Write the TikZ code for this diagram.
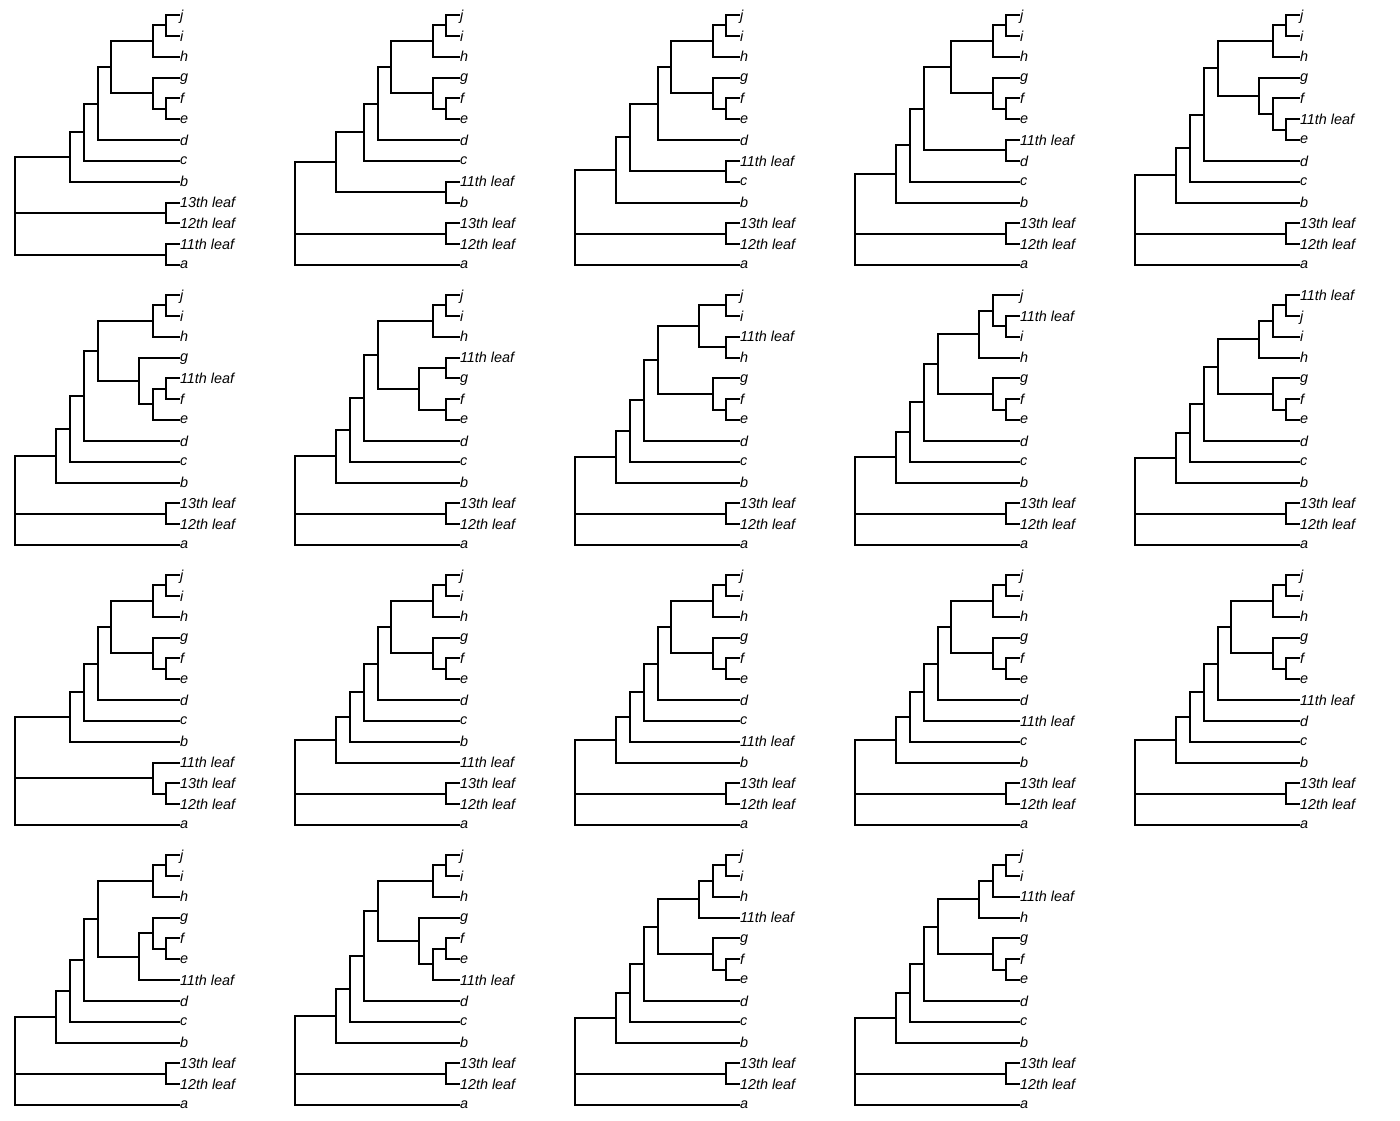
\documentclass[tikz,border=0pt]{standalone}
\usepackage{fontspec}
\setmainfont{Liberation Sans}
\usetikzlibrary{calc}
\def\labj{j}\def\labi{i}\def\labh{h}\def\labg{g}\def\labf{f}\def\labe{e}
\def\labd{d}\def\labc{c}\def\labb{b}\def\laba{a}
\def\labk{11th leaf}\def\labl{12th leaf}\def\labm{13th leaf}
\tikzset{
  br/.style={line width=1pt, black},
  tiplab/.style={anchor=west, inner sep=0pt, outer sep=0pt, text depth=0pt,
    font=\fontsize{7.2pt}{8pt}\selectfont\itshape},
  panel/.style={x=6.875pt, y=-10.416667pt}
}
\newcommand\tips[1]{%
  \foreach \n [count=\r from 0] in {#1} {%
    \coordinate (\tid\n) at (12,\r);
    \node[tiplab] (\tid\n L) at (\tid\n) {\csname lab\n\endcsname};
  }}
\newcommand\nd[4]{%
  \path ($(\tid#3)!0.5!(\tid#4)$) coordinate (\tid#1Y);
  \path (#2,0) coordinate (\tid#1X);
  \coordinate (\tid#1) at (\tid#1X |- \tid#1Y);
  \draw[br] (\tid#1) |- (\tid#3);
  \draw[br] (\tid#1) |- (\tid#4);}
\newcommand\ed[2]{\draw[br] (\tid#1) |- (\tid#2);}
\newcommand\jihbase{\nd{ji}{11}{j}{i}\nd{jih}{10}{ji}{h}}
\newcommand\gfebase{\nd{fe}{11}{f}{e}\nd{gfe}{10}{g}{fe}}
\newcommand\fin{\nd{ml}{11}{m}{l}\nd{root}{0}{bb}{a}\ed{root}{ml}}
\newcommand\tailA{\nd{dd}{5}{jg}{d}\nd{cc}{4}{dd}{c}\nd{bb}{3}{cc}{b}\fin}
\begin{document}
\begin{tikzpicture}[x=0.5pt, y=0.5pt]
\path[use as bounding box] (0,0) rectangle (1400,-1120);
% ---------- row 1 ----------
\begin{scope}[shift={(7.5pt,-7.5pt)}, panel]
\def\tid{t1}
\tips{j,i,h,g,f,e,d,c,b,m,l,k,a}
\jihbase\gfebase
\nd{jg}{7}{jih}{gfe}\nd{dd}{6}{jg}{d}\nd{cc}{5}{dd}{c}\nd{bb}{4}{cc}{b}
\nd{ml}{11}{m}{l}\nd{ka}{11}{k}{a}
\nd{root}{0}{bb}{ka}\ed{root}{ml}
\end{scope}
\begin{scope}[shift={(147.5pt,-7.5pt)}, panel]
\def\tid{t2}
\tips{j,i,h,g,f,e,d,c,k,b,m,l,a}
\jihbase\gfebase
\nd{jg}{7}{jih}{gfe}\nd{dd}{6}{jg}{d}\nd{cc}{5}{dd}{c}
\nd{kb}{11}{k}{b}\nd{bb}{3}{cc}{kb}
\fin
\end{scope}
\begin{scope}[shift={(287.5pt,-7.5pt)}, panel]
\def\tid{t3}
\tips{j,i,h,g,f,e,d,k,c,b,m,l,a}
\jihbase\gfebase
\nd{jg}{7}{jih}{gfe}\nd{dd}{6}{jg}{d}\nd{kc}{11}{k}{c}
\nd{cc}{4}{dd}{kc}\nd{bb}{3}{cc}{b}
\fin
\end{scope}
\begin{scope}[shift={(427.5pt,-7.5pt)}, panel]
\def\tid{t4}
\tips{j,i,h,g,f,e,k,d,c,b,m,l,a}
\jihbase\gfebase
\nd{jg}{7}{jih}{gfe}\nd{kd}{11}{k}{d}\nd{dd}{5}{jg}{kd}
\nd{cc}{4}{dd}{c}\nd{bb}{3}{cc}{b}
\fin
\end{scope}
\begin{scope}[shift={(567.5pt,-7.5pt)}, panel]
\def\tid{t5}
\tips{j,i,h,g,f,k,e,d,c,b,m,l,a}
\jihbase
\nd{ke}{11}{k}{e}\nd{fke}{10}{f}{ke}\nd{gfe}{9}{g}{fke}
\nd{jg}{6}{jih}{gfe}
\tailA
\end{scope}
% ---------- row 2 ----------
\begin{scope}[shift={(7.5pt,-147.5pt)}, panel]
\def\tid{t6}
\tips{j,i,h,g,k,f,e,d,c,b,m,l,a}
\jihbase
\nd{kf}{11}{k}{f}\nd{kfe}{10}{kf}{e}\nd{gfe}{9}{g}{kfe}
\nd{jg}{6}{jih}{gfe}
\tailA
\end{scope}
\begin{scope}[shift={(147.5pt,-147.5pt)}, panel]
\def\tid{t7}
\tips{j,i,h,k,g,f,e,d,c,b,m,l,a}
\jihbase
\nd{kg}{11}{k}{g}\nd{fe}{11}{f}{e}\nd{gfe}{9}{kg}{fe}
\nd{jg}{6}{jih}{gfe}
\tailA
\end{scope}
\begin{scope}[shift={(287.5pt,-147.5pt)}, panel]
\def\tid{t8}
\tips{j,i,k,h,g,f,e,d,c,b,m,l,a}
\nd{ji}{11}{j}{i}\nd{kh}{11}{k}{h}\nd{jih}{9}{ji}{kh}
\gfebase
\nd{jg}{6}{jih}{gfe}
\tailA
\end{scope}
\begin{scope}[shift={(427.5pt,-147.5pt)}, panel]
\def\tid{t9}
\tips{j,k,i,h,g,f,e,d,c,b,m,l,a}
\nd{ki}{11}{k}{i}\nd{jki}{10}{j}{ki}\nd{jih}{9}{jki}{h}
\gfebase
\nd{jg}{6}{jih}{gfe}
\tailA
\end{scope}
\begin{scope}[shift={(567.5pt,-147.5pt)}, panel]
\def\tid{t10}
\tips{k,j,i,h,g,f,e,d,c,b,m,l,a}
\nd{kj}{11}{k}{j}\nd{kji}{10}{kj}{i}\nd{jih}{9}{kji}{h}
\gfebase
\nd{jg}{6}{jih}{gfe}
\tailA
\end{scope}
% ---------- row 3 ----------
\begin{scope}[shift={(7.5pt,-287.5pt)}, panel]
\def\tid{t11}
\tips{j,i,h,g,f,e,d,c,b,k,m,l,a}
\jihbase\gfebase
\nd{jg}{7}{jih}{gfe}\nd{dd}{6}{jg}{d}\nd{cc}{5}{dd}{c}\nd{bb}{4}{cc}{b}
\nd{ml}{11}{m}{l}\nd{kml}{10}{k}{ml}
\nd{root}{0}{bb}{a}\ed{root}{kml}
\end{scope}
\begin{scope}[shift={(147.5pt,-287.5pt)}, panel]
\def\tid{t12}
\tips{j,i,h,g,f,e,d,c,b,k,m,l,a}
\jihbase\gfebase
\nd{jg}{7}{jih}{gfe}\nd{dd}{6}{jg}{d}\nd{cc}{5}{dd}{c}\nd{bq}{4}{cc}{b}
\nd{bb}{3}{bq}{k}
\fin
\end{scope}
\begin{scope}[shift={(287.5pt,-287.5pt)}, panel]
\def\tid{t13}
\tips{j,i,h,g,f,e,d,c,k,b,m,l,a}
\jihbase\gfebase
\nd{jg}{7}{jih}{gfe}\nd{dd}{6}{jg}{d}\nd{cq}{5}{dd}{c}\nd{cc}{4}{cq}{k}
\nd{bb}{3}{cc}{b}
\fin
\end{scope}
\begin{scope}[shift={(427.5pt,-287.5pt)}, panel]
\def\tid{t14}
\tips{j,i,h,g,f,e,d,k,c,b,m,l,a}
\jihbase\gfebase
\nd{jg}{7}{jih}{gfe}\nd{dq}{6}{jg}{d}\nd{dd}{5}{dq}{k}
\nd{cc}{4}{dd}{c}\nd{bb}{3}{cc}{b}
\fin
\end{scope}
\begin{scope}[shift={(567.5pt,-287.5pt)}, panel]
\def\tid{t15}
\tips{j,i,h,g,f,e,k,d,c,b,m,l,a}
\jihbase\gfebase
\nd{jq}{7}{jih}{gfe}\nd{jg}{6}{jq}{k}
\tailA
\end{scope}
% ---------- row 4 ----------
\begin{scope}[shift={(7.5pt,-427.5pt)}, panel]
\def\tid{t16}
\tips{j,i,h,g,f,e,k,d,c,b,m,l,a}
\jihbase\gfebase
\nd{gk}{9}{gfe}{k}\nd{jg}{6}{jih}{gk}
\tailA
\end{scope}
\begin{scope}[shift={(147.5pt,-427.5pt)}, panel]
\def\tid{t17}
\tips{j,i,h,g,f,e,k,d,c,b,m,l,a}
\jihbase
\nd{fe}{11}{f}{e}\nd{fek}{10}{fe}{k}\nd{gfe}{9}{g}{fek}
\nd{jg}{6}{jih}{gfe}
\tailA
\end{scope}
\begin{scope}[shift={(287.5pt,-427.5pt)}, panel]
\def\tid{t18}
\tips{j,i,h,k,g,f,e,d,c,b,m,l,a}
\jihbase
\nd{jk}{9}{jih}{k}
\gfebase
\nd{jg}{6}{jk}{gfe}
\tailA
\end{scope}
\begin{scope}[shift={(427.5pt,-427.5pt)}, panel]
\def\tid{t19}
\tips{j,i,k,h,g,f,e,d,c,b,m,l,a}
\nd{ji}{11}{j}{i}\nd{jik}{10}{ji}{k}\nd{jih}{9}{jik}{h}
\gfebase
\nd{jg}{6}{jih}{gfe}
\tailA
\end{scope}
\end{tikzpicture}
\end{document}
